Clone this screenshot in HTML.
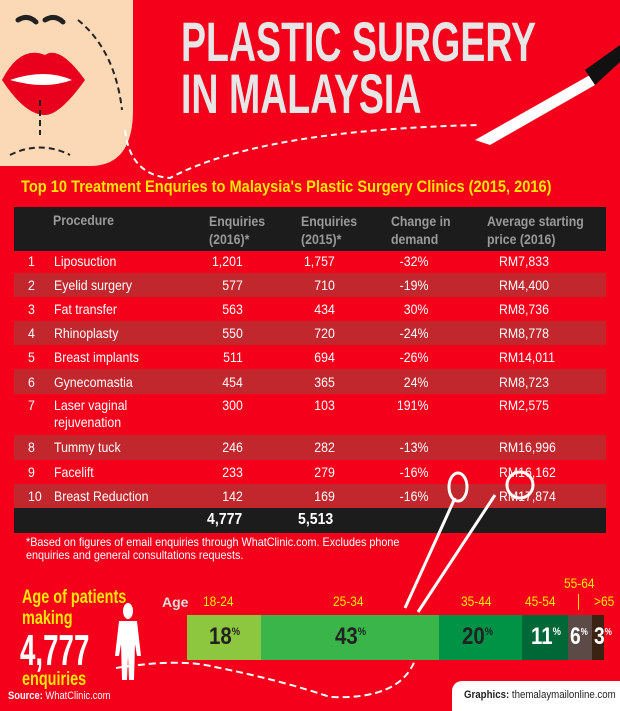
<!DOCTYPE html>
<html><head><style>
body{margin:0;width:620px;height:708px;overflow:hidden;background:#f5001a;font-family:"Liberation Sans",sans-serif;position:relative}
.a{position:absolute}
.t{position:absolute;color:#fff;font-size:14px;transform:scaleX(.88);transform-origin:left}
</style></head><body>
<svg class="a" style="left:0;top:0" width="620" height="200">
<path d="M0 0H133V110Q133 166 90 166H0Z" fill="#fcd9b6"/>
<path d="M18 20q10-6 18 2M45 20q10-6 18 2" stroke="#222" stroke-width="5" fill="none" stroke-linecap="round"/>
<path d="M2 80Q20 45 45 55Q60 45 85 80Q60 115 45 115Q25 115 2 80Z" fill="#e8001c"/>
<path d="M10 80Q45 68 72 80Q45 90 10 80Z" fill="#fff"/>
<path d="M78 20Q115 50 122 110M40 100V135M10 155Q40 140 70 155" stroke="#222" stroke-width="2" stroke-dasharray="6 4" fill="none"/>
<path d="M125 130Q130 175 170 178Q260 130 480 125" stroke="#fff" stroke-width="2" stroke-dasharray="6 4" fill="none"/>
<path d="M475 140L590 75L595 85L490 145Z" fill="#fff"/>
<path d="M585 70L620 45V62L595 85Z" fill="#111"/>
</svg>
<div class="a" style="left:181px;top:16px;color:#e6e6e6;font-weight:bold;font-size:56px;line-height:52px;transform:scaleX(.67);transform-origin:left;white-space:nowrap">PLASTIC SURGERY<br>IN MALAYSIA</div>
<div class="a" style="left:21px;top:177px;color:#ffe600;font-weight:bold;font-size:17px;transform:scaleX(.86);transform-origin:left;white-space:nowrap">Top 10 Treatment Enquries to Malaysia's Plastic Surgery Clinics (2015, 2016)</div>
<div class="a" style="left:14px;top:207px;width:592px;height:44px;background:#1c1c1c"></div>
<div class="a" style="left:14px;top:273px;width:592px;height:24px;background:#c1272d"></div>
<div class="a" style="left:14px;top:321px;width:592px;height:24px;background:#c1272d"></div>
<div class="a" style="left:14px;top:369px;width:592px;height:25px;background:#c1272d"></div>
<div class="a" style="left:14px;top:435px;width:592px;height:25px;background:#c1272d"></div>
<div class="a" style="left:14px;top:484px;width:592px;height:24px;background:#c1272d"></div>
<div class="a" style="left:14px;top:508px;width:592px;height:25px;background:#1c1c1c"></div>
<div class="t" style="left:53px;top:212px;color:#9a9a9a;font-weight:bold">Procedure</div>
<div class="t" style="left:209px;top:212px;color:#9a9a9a;font-weight:bold;line-height:18px">Enquiries<br>(2016)*</div>
<div class="t" style="left:301px;top:212px;color:#9a9a9a;font-weight:bold;line-height:18px">Enquiries<br>(2015)*</div>
<div class="t" style="left:391px;top:212px;color:#9a9a9a;font-weight:bold;line-height:18px">Change in<br>demand</div>
<div class="t" style="left:487px;top:212px;color:#9a9a9a;font-weight:bold;line-height:18px">Average starting<br>price (2016)</div>
<div id="rows"></div>
<script>
var d=[["1","Liposuction","1,201","1,757","-32%","RM7,833",253],["2","Eyelid surgery","577","710","-19%","RM4,400",277],["3","Fat transfer","563","434","30%","RM8,736",301],["4","Rhinoplasty","550","720","-24%","RM8,778",325],["5","Breast implants","511","694","-26%","RM14,011",349],["6","Gynecomastia","454","365","24%","RM8,723",374],["7","Laser vaginal<br>rejuvenation","300","103","191%","RM2,575",397],["8","Tummy tuck","246","282","-13%","RM16,996",439],["9","Facelift","233","279","-16%","RM16,162",464],["10","Breast Reduction","142","169","-16%","RM17,874",488]];
var h="";d.forEach(function(r){var y=r[6];
h+='<div class="t" style="left:28px;top:'+y+'px">'+r[0]+'</div><div class="t" style="left:54px;top:'+y+'px;line-height:17px">'+r[1]+'</div>'+
'<div class="t" style="left:190px;width:60px;text-align:right;top:'+y+'px">'+r[2]+'</div><div class="t" style="left:282px;width:60px;text-align:right;top:'+y+'px">'+r[3]+'</div>'+
'<div class="t" style="left:380px;width:55px;text-align:right;top:'+y+'px">'+r[4]+'</div><div class="t" style="left:499px;top:'+y+'px">'+r[5]+'</div>';});
document.getElementById("rows").innerHTML=h;
</script>
<div class="t" style="left:207px;top:511px;font-weight:bold;font-size:16px">4,777</div>
<div class="t" style="left:298px;top:511px;font-weight:bold;font-size:16px">5,513</div>
<div class="a" style="left:26px;top:536px;color:#fff;font-size:12px;line-height:13px;transform:scaleX(.9);transform-origin:left;white-space:nowrap">*Based on figures of email enquiries through WhatClinic.com. Excludes phone<br>enquiries and general consultations requests.</div>
<div class="a" style="left:22px;top:587px;color:#ffe600;font-weight:bold;font-size:19px;line-height:21px;transform:scaleX(.76);transform-origin:left;white-space:nowrap">Age of patients<br>making</div>
<div class="a" style="left:20px;top:626px;color:#fff;font-weight:bold;font-size:44px;transform:scaleX(.63);transform-origin:left">4,777</div>
<div class="a" style="left:22px;top:669px;color:#ffe600;font-weight:bold;font-size:19px;transform:scaleX(.76);transform-origin:left">enquiries</div>
<svg class="a" style="left:0;top:0" width="620" height="708">
<ellipse cx="128" cy="611" rx="5" ry="8" fill="#fff"/>
<path d="M119 621h18l4 35h-4l-2-12-1 36h-5l-1-24-1 24h-5l-1-36-2 12h-4z" fill="#fff"/>
<path d="M116 668Q180 658 215 667Q280 680 330 697Q400 700 415 660L420 635" stroke="#fff" stroke-width="2" stroke-dasharray="7 4" fill="none"/>
<path d="M405 608L455 498M418 612L495 495" stroke="#fff" stroke-width="3"/>
<ellipse cx="458" cy="487" rx="9" ry="14" fill="none" stroke="#fff" stroke-width="3"/>
<ellipse cx="520" cy="485" rx="13" ry="13" fill="none" stroke="#fff" stroke-width="3"/>
</svg>
<div class="a" style="left:162px;top:594px;color:#ddd;font-weight:bold;font-size:14px">Age</div>
<div class="a" style="left:187px;top:615px;width:74px;height:45px;background:#8dc63f"></div>
<div class="a" style="left:261px;top:615px;width:178px;height:45px;background:#39b54a"></div>
<div class="a" style="left:439px;top:615px;width:83px;height:45px;background:#009245"></div>
<div class="a" style="left:522px;top:615px;width:46px;height:45px;background:#006837"></div>
<div class="a" style="left:568px;top:615px;width:24px;height:45px;background:#5b4a45"></div>
<div class="a" style="left:592px;top:615px;width:12px;height:45px;background:#3b2314"></div>
<div class="a" style="left:203px;top:593px;color:#ffe600;font-size:14px;transform:scaleX(.85);transform-origin:left">18-24</div>
<div class="a" style="left:333px;top:593px;color:#ffe600;font-size:14px;transform:scaleX(.85);transform-origin:left">25-34</div>
<div class="a" style="left:461px;top:593px;color:#ffe600;font-size:14px;transform:scaleX(.85);transform-origin:left">35-44</div>
<div class="a" style="left:525px;top:593px;color:#ffe600;font-size:14px;transform:scaleX(.85);transform-origin:left">45-54</div>
<div class="a" style="left:564px;top:575px;color:#ffe600;font-size:14px;transform:scaleX(.85);transform-origin:left">55-64</div>
<div class="a" style="left:578px;top:594px;width:1px;height:16px;background:#ffe600"></div>
<div class="a" style="left:594px;top:593px;color:#ffe600;font-size:14px;transform:scaleX(.85);transform-origin:left">&gt;65</div>
<div class="a" style="left:209px;top:623px;color:#222;font-weight:bold;font-size:24px;transform:scaleX(.85);transform-origin:left">18<sup style="font-size:11px">%</sup></div>
<div class="a" style="left:335px;top:623px;color:#222;font-weight:bold;font-size:24px;transform:scaleX(.85);transform-origin:left">43<sup style="font-size:11px">%</sup></div>
<div class="a" style="left:462px;top:623px;color:#222;font-weight:bold;font-size:24px;transform:scaleX(.85);transform-origin:left">20<sup style="font-size:11px">%</sup></div>
<div class="a" style="left:531px;top:623px;color:#fff;font-weight:bold;font-size:24px;transform:scaleX(.85);transform-origin:left">11<sup style="font-size:11px">%</sup></div>
<div class="a" style="left:570px;top:623px;color:#fff;font-weight:bold;font-size:24px;transform:scaleX(.8);transform-origin:left">6<sup style="font-size:10px">%</sup></div>
<div class="a" style="left:594px;top:623px;color:#fff;font-weight:bold;font-size:24px;transform:scaleX(.8);transform-origin:left">3<sup style="font-size:10px">%</sup></div>
<div class="a" style="left:8px;top:690px;color:#fff;font-size:11px;transform:scaleX(.85);transform-origin:left;white-space:nowrap"><b>Source:</b> WhatClinic.com</div>
<div class="a" style="left:452px;top:681px;width:180px;height:30px;background:#fff;border-radius:10px 0 0 0"></div>
<div class="a" style="left:464px;top:689px;color:#222;font-size:11px;white-space:nowrap;transform:scaleX(.88);transform-origin:left"><b>Graphics:</b> themalaymailonline.com</div>
</body></html>
